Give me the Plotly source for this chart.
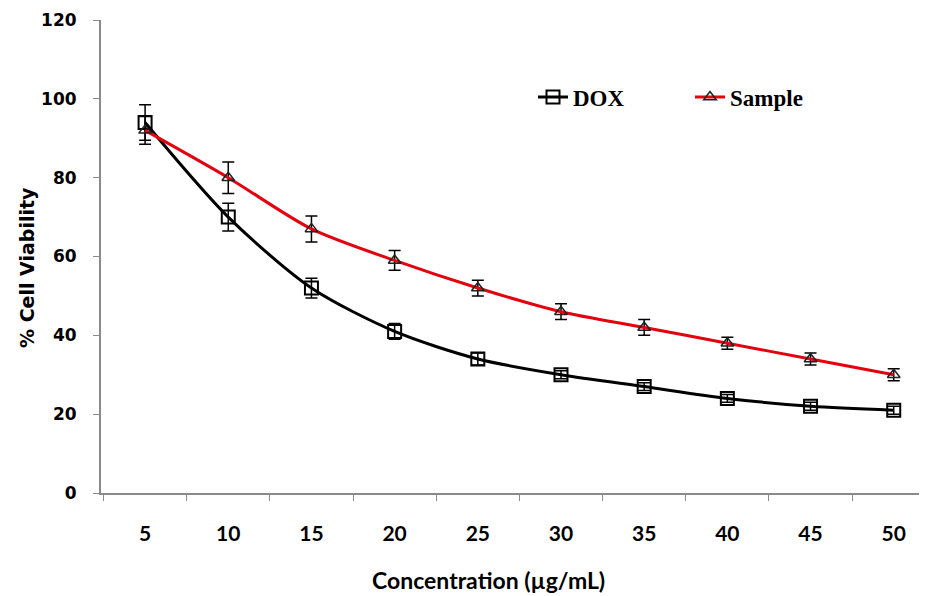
import plotly.graph_objects as go

concentrations = ["5", "10", "15", "20", "25", "30", "35", "40", "45", "50"]
dox_values = [94, 70, 52, 41, 34, 30, 27, 24, 22, 21]
dox_errors = [4.5, 3.5, 2.5, 2, 1.5, 1, 1, 1, 1, 1]
sample_values = [92, 80, 67, 59, 52, 46, 42, 38, 34, 30]
sample_errors = [3.5, 4, 3.3, 2.5, 2, 2, 2, 1.5, 1.5, 1.5]
y_ticks = [0, 20, 40, 60, 80, 100, 120]

OFF = 8  # page offset from default body margin
W, H = 927 - OFF, 596 - OFF
# page-pixel geometry of the plot area
PL, PT, PB, PR = 101, 20, 493, 927
L, T = PL - OFF, PT - OFF
B = H - (PB - OFF)
R = W - (PR - OFF)
pw = W - L - R
ph = H - T - B

def px_x(p):
    return (p - OFF - L) / pw

def px_y(p):
    return (PB - p) / ph

fig = go.Figure()
fig.add_trace(go.Scatter(
    x=concentrations, y=dox_values, name="DOX", mode="lines+markers",
    line=dict(color="black", width=3, shape="spline", smoothing=0.8),
    marker=dict(symbol="square-open", size=13, color="black", line=dict(width=2)),
    error_y=dict(type="data", array=dox_errors, color="black", thickness=1.5, width=6),
))
fig.add_trace(go.Scatter(
    x=concentrations, y=sample_values, name="Sample", mode="lines+markers",
    line=dict(color="#e3000f", width=3, shape="spline", smoothing=0.8),
    marker=dict(symbol="triangle-up-open", size=11, color="#222222", line=dict(width=1.5, color="#222222")),
    error_y=dict(type="data", array=sample_errors, color="black", thickness=1.5, width=6),
))

fig.update_layout(
    width=W, height=H,
    margin=dict(l=L, r=R, t=T, b=B, autoexpand=False),
    paper_bgcolor="white", plot_bgcolor="white",
    showlegend=True,
    legend=dict(orientation="h", x=px_x(533), y=px_y(97), xanchor="left", yanchor="middle",
                font=dict(family="Liberation Serif", size=23, color="black", weight="bold"),
                bgcolor="rgba(0,0,0,0)", entrywidth=112, entrywidthmode="pixels"),
    annotations=[
        dict(text="Concentration (µg/mL)", x=px_x(488), y=px_y(580), xref="paper", yref="paper",
             showarrow=False, xanchor="center", yanchor="middle",
             font=dict(family="Lato", size=23, color="black", weight="bold")),
        dict(text="% Cell Viability", x=px_x(27), y=px_y(268), xref="paper", yref="paper",
             showarrow=False, textangle=-90, xanchor="center", yanchor="middle",
             font=dict(family="DejaVu Sans", size=19, color="black", weight="bold")),
    ],
)
fig.update_xaxes(
    type="category", range=[-0.53, 9.4], automargin=False,
    showline=True, linecolor="#8a8a8a", linewidth=2,
    ticks="outside", tickson="boundaries", ticklen=6, tickcolor="#8a8a8a", tickwidth=1,
    showgrid=False, zeroline=False,
    tickfont=dict(family="Lato", size=21, color="black", weight="bold"),
    ticklabelstandoff=21,
)
fig.update_yaxes(
    range=[0, 120], tickvals=y_ticks, automargin=False,
    showline=True, linecolor="#8a8a8a", linewidth=2,
    ticks="outside", ticklen=6, tickcolor="#8a8a8a", tickwidth=1,
    showgrid=False, zeroline=False,
    tickfont=dict(family="DejaVu Sans", size=17, color="black", weight="bold"),
    ticklabelstandoff=13,
)

fig.write_html("out.html")
